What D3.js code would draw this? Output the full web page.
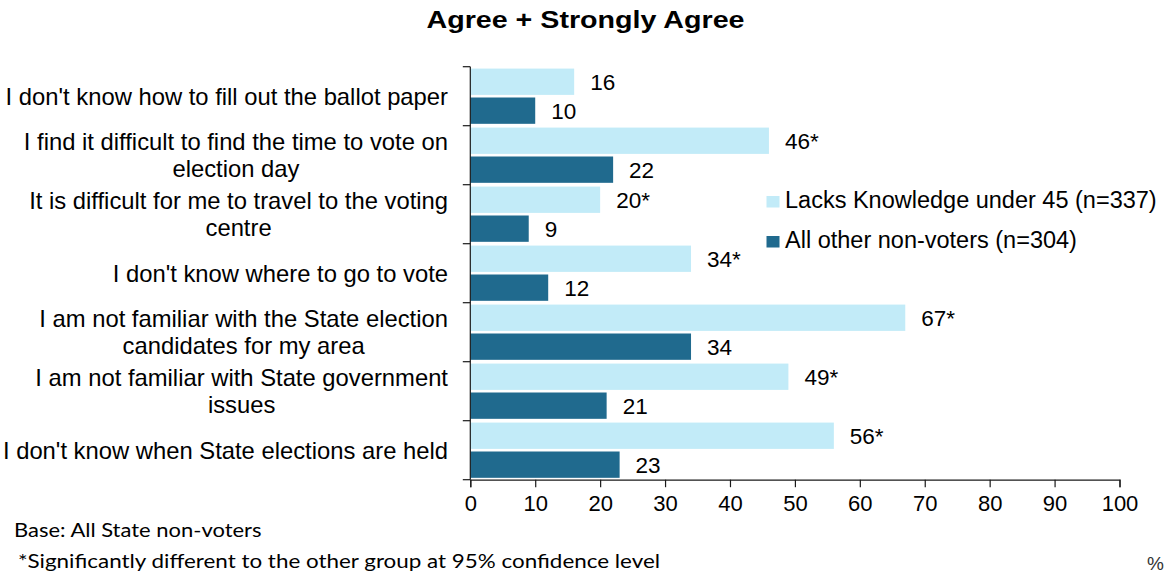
<!DOCTYPE html>
<html>
<head>
<meta charset="utf-8">
<script src="https://cdn.jsdelivr.net/npm/d3@7"></script>
<style>
  html, body { margin: 0; padding: 0; background: #ffffff; }
  svg { display: block; }
</style>
</head>
<body>
<svg id="chart" width="1164" height="575"></svg>
<script>
// ---- Data ----
const categories = [
  "I don't know how to fill out the ballot paper",
  "I find it difficult to find the time to vote on election day",
  "It is difficult for me to travel to the voting centre",
  "I don't know where to go to vote",
  "I am not familiar with the State election candidates for my area",
  "I am not familiar with State government issues",
  "I don't know when State elections are held"
];
const categoryLines = [
  ["I don't know how to fill out the ballot paper"],
  ["I find it difficult to find the time to vote on", "election day"],
  ["It is difficult for me to travel to the voting", "centre"],
  ["I don't know where to go to vote"],
  ["I am not familiar with the State election", "candidates for my area"],
  ["I am not familiar with State government", "issues"],
  ["I don't know when State elections are held"]
];
const seriesNames = ["Lacks Knowledge under 45 (n=337)", "All other non-voters (n=304)"];
const lacksKnowledge = [16, 46, 20, 34, 67, 49, 56];
const allOther = [10, 22, 9, 12, 34, 21, 23];
const significant = [false, true, true, true, true, true, true];
const xTicks = [0, 10, 20, 30, 40, 50, 60, 70, 80, 90, 100];
const titleText = "Agree + Strongly Agree";
const footnotes = ["Base: All State non-voters", "*Significantly different to the other group at 95% confidence level"];

const colors = ["#C2EBF8", "#206A8E"];

// ---- Layout ----
const svg = d3.select("#chart");
const plotLeft = 470.3, plotRight = 1119.5, plotTop = 66.7, plotBottom = 479.7;
const sans = "'Liberation Sans', Arial, sans-serif";

const x = d3.scaleLinear().domain([0, 100]).range([plotLeft, plotRight]);
const y = d3.scaleBand().domain(categories).range([plotTop, plotBottom]).paddingInner(0).paddingOuter(0);
const ySub = d3.scaleBand().domain([0, 1]).range([0, y.bandwidth()]).paddingInner(0.09).paddingOuter(0.065);

const rows = categories.map((c, i) => ({
  cat: c, lines: categoryLines[i],
  vals: [
    {s: 0, v: lacksKnowledge[i], label: lacksKnowledge[i] + (significant[i] ? "*" : "")},
    {s: 1, v: allOther[i], label: String(allOther[i])}
  ]
}));

// Title
svg.append("text")
  .attr("x", 585.5).attr("y", 28.3)
  .attr("text-anchor", "middle")
  .attr("font-family", sans).attr("font-weight", "bold").attr("font-size", 23)
  .attr("textLength", 318).attr("lengthAdjust", "spacingAndGlyphs")
  .attr("fill", "#000").text(titleText);

// Bars
const g = svg.append("g");
const rowG = g.selectAll("g.row").data(rows).join("g")
  .attr("class", "row")
  .attr("transform", d => `translate(0,${y(d.cat)})`);

rowG.selectAll("rect").data(d => d.vals).join("rect")
  .attr("x", x(0))
  .attr("y", d => ySub(d.s))
  .attr("width", d => x(d.v) - x(0))
  .attr("height", ySub.bandwidth())
  .attr("fill", d => colors[d.s]);

rowG.selectAll("text.val").data(d => d.vals).join("text")
  .attr("class", "val")
  .attr("x", d => x(d.v) + 16)
  .attr("y", d => ySub(d.s) + ySub.bandwidth() / 2)
  .attr("dy", "0.36em")
  .attr("font-family", sans).attr("font-size", 22.5)
  .attr("fill", "#000")
  .text(d => d.label);

// Category labels (block right-aligned, lines centered)
const labelRight = 448;
const lineH = 27;
rowG.each(function(d) {
  const sel = d3.select(this);
  const cy = y.bandwidth() / 2;
  const n = d.lines.length;
  const texts = d.lines.map((ln, j) => sel.append("text")
    .attr("font-family", sans).attr("font-size", 23.8)
    .attr("fill", "#000")
    .attr("text-anchor", "middle")
    .attr("y", cy + (j - (n - 1) / 2) * lineH)
    .attr("dy", "0.36em")
    .text(ln));
  const maxW = d3.max(texts, t => t.node().getComputedTextLength());
  texts.forEach(t => t.attr("x", labelRight - maxW / 2));
});

// Y axis line and boundary ticks
const axisColor = "#1a1a1a";
svg.append("line")
  .attr("x1", x(0)).attr("x2", x(0))
  .attr("y1", plotTop).attr("y2", plotBottom)
  .attr("stroke", axisColor).attr("stroke-width", 1.2);
const boundaries = categories.map(c => y(c)).concat([y.range()[1]]);
svg.selectAll("line.ytick").data(boundaries).join("line")
  .attr("class", "ytick")
  .attr("x1", x(0) - 7.5).attr("x2", x(0))
  .attr("y1", d => d).attr("y2", d => d)
  .attr("stroke", axisColor).attr("stroke-width", 1.2);

// X axis
const xAxis = d3.axisBottom(x).tickValues(xTicks).tickSize(7.5).tickPadding(8).tickFormat(d3.format("d"));
const xg = svg.append("g").attr("transform", `translate(0,${plotBottom})`).call(xAxis);
xg.select(".domain").attr("stroke", axisColor).attr("stroke-width", 1.2);
xg.selectAll(".tick line").attr("stroke", axisColor).attr("stroke-width", 1.2);
xg.selectAll(".tick text")
  .attr("font-family", sans).attr("font-size", 22).attr("fill", "#000");

// Legend
const legend = svg.append("g");
seriesNames.forEach((name, i) => {
  const by = 208 + i * 40;
  legend.append("rect")
    .attr("x", 766.5).attr("y", by - 12)
    .attr("width", 13).attr("height", 11.5)
    .attr("fill", colors[i]);
  legend.append("text")
    .attr("x", 785).attr("y", by)
    .attr("font-family", sans).attr("font-size", 23.5)
    .attr("fill", "#000").text(name);
});

// Footnotes
const foot = "Lato, 'Open Sans', sans-serif";
svg.append("text")
  .attr("x", 14).attr("y", 537.3)
  .attr("font-family", foot).attr("font-size", 19.5)
  .attr("textLength", 247.5).attr("lengthAdjust", "spacingAndGlyphs")
  .attr("fill", "#000").text(footnotes[0]);
svg.append("text")
  .attr("x", 18).attr("y", 568.3)
  .attr("font-family", foot).attr("font-size", 19.5)
  .attr("textLength", 642).attr("lengthAdjust", "spacingAndGlyphs")
  .attr("fill", "#000").text(footnotes[1]);
svg.append("text")
  .attr("x", 1147).attr("y", 570)
  .attr("font-family", sans).attr("font-size", 19)
  .attr("fill", "#333").text("%");
</script>
</body>
</html>
